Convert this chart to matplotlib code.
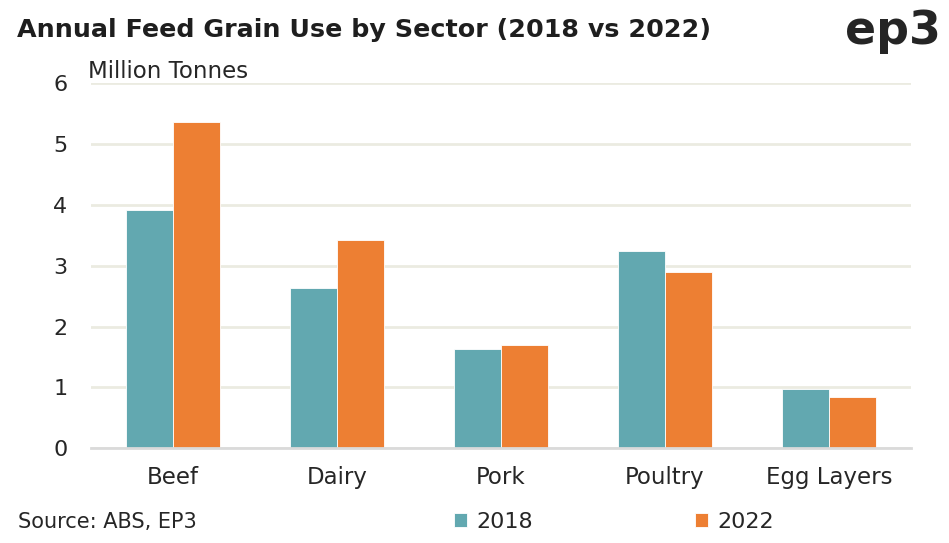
import matplotlib.pyplot as plt
import numpy as np

# data
sectors = ["Beef", "Dairy", "Pork", "Poultry", "Egg Layers"]
use_2018 = [3.91, 2.63, 1.63, 3.25, 0.98]
use_2022 = [5.37, 3.42, 1.70, 2.89, 0.85]
y_ticks = [0, 1, 2, 3, 4, 5, 6]

TEAL = "#62A8B0"
ORANGE = "#ED7F33"
GRID = "#EBEBE1"
TEXT = "#262626"

plt.rcParams["font.family"] = ["DejaVu Sans"]

fig = plt.figure(figsize=(9.49, 5.43), dpi=100)
ax = fig.add_axes([91 / 949, 1 - 448.3 / 543, 820 / 949, 365 / 543])

x = np.arange(len(sectors))
w = 0.287
ax.bar(x - w / 2, use_2018, w, color=TEAL, edgecolor="white", linewidth=0.6, zorder=3, label="2018")
ax.bar(x + w / 2, use_2022, w, color=ORANGE, edgecolor="white", linewidth=0.6, zorder=3, label="2022")

ax.set_xlim(-0.5, 4.5)
ax.set_ylim(0, 6)
ax.set_yticks(y_ticks)
ax.set_xticks(x)
ax.set_xticklabels(sectors)
ax.tick_params(axis="both", length=0, labelcolor=TEXT)
ax.tick_params(axis="y", pad=17, labelsize=16)
ax.tick_params(axis="x", pad=13, labelsize=16.5)
ax.grid(axis="y", color=GRID, linewidth=2, zorder=0)
for s in ["top", "right", "left"]:
    ax.spines[s].set_visible(False)
ax.spines["bottom"].set_color("#DADADA")
ax.spines["bottom"].set_linewidth(2)
ax.spines["bottom"].set_zorder(4)

fig.text(88 / 949, 1 - 71 / 543, "Million Tonnes", fontsize=16.5, color=TEXT, ha="left", va="center")
fig.text(17 / 949, 1 - 30 / 543, "Annual Feed Grain Use by Sector (2018 vs 2022)",
         fontsize=18.3, fontweight="bold", color="#1E1E1E", ha="left", va="center")
fig.text(941 / 949, 1 - 44 / 543, "ep3", fontsize=33, fontweight="bold", color="#252525",
         ha="right", va="baseline")
fig.text(18 / 949, 1 - 522 / 543, "Source: ABS, EP3", fontsize=15, color=TEXT, ha="left", va="center")

# legend drawn as two separate entries, like the reference
fig.legend(handles=[ax.patches[0]], labels=["2018"], loc="center left",
           bbox_to_anchor=(434 / 949, 1 - 522 / 543), frameon=False, fontsize=16,
           labelcolor=TEXT, handlelength=0.6, handleheight=0.6, handletextpad=0.4)
fig.legend(handles=[ax.patches[-1]], labels=["2022"], loc="center left",
           bbox_to_anchor=(675 / 949, 1 - 522 / 543), frameon=False, fontsize=16,
           labelcolor=TEXT, handlelength=0.6, handleheight=0.6, handletextpad=0.4)

fig.savefig("out.png", dpi=100)
